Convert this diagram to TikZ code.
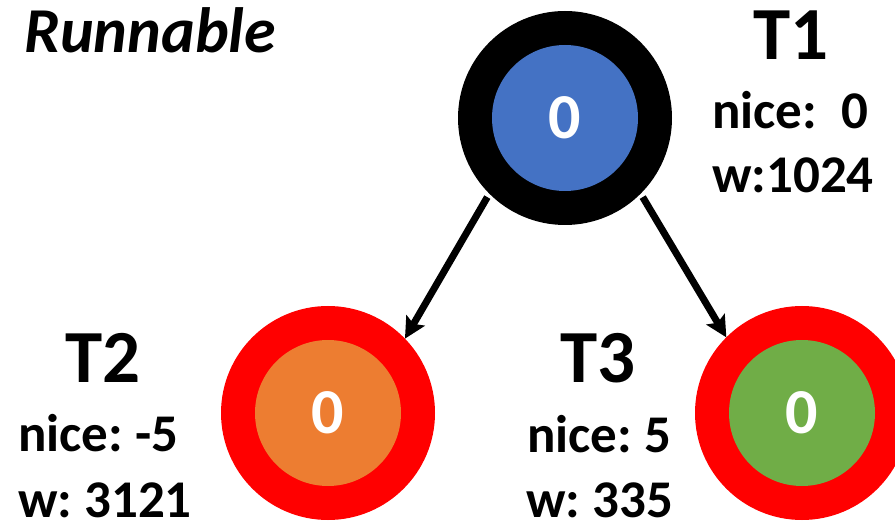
\documentclass[tikz,border=0pt]{standalone}
\usepackage{fontspec}
\setmainfont{Carlito}
\usetikzlibrary{arrows.meta}
\definecolor{cblue}{HTML}{4472C4}
\definecolor{corange}{HTML}{ED7D31}
\definecolor{cgreen}{HTML}{70AD47}
\definecolor{cred}{HTML}{FF0000}
\frenchspacing
\tikzset{
  ring/.style={circle, inner sep=0pt, outer sep=0pt, minimum size=214pt},
  core/.style={circle, inner sep=0pt, outer sep=0pt, minimum size=146pt, text=white,
    font=\fontsize{64}{64}\selectfont\bfseries},
  title/.style={anchor=base, inner sep=0pt, text depth=0pt, font=\fontsize{75}{75}\selectfont\bfseries},
  info/.style={anchor=base west, inner sep=0pt, text depth=0pt, font=\fontsize{53}{53}\selectfont\bfseries},
  link/.style={line width=7pt, -{Stealth[length=21pt,width=21pt,inset=4pt]}, shorten <=4pt}
}
\begin{document}
\begin{tikzpicture}[x=1pt,y=-1pt]
\useasboundingbox (0,0) rectangle (895,521);
\clip (0,0) rectangle (895,521);
% T1
\node[ring, fill=black] (t1) at (565,118) {};
\node[core, fill=cblue] (c1) at (t1) {0};
% T2
\node[ring, fill=cred] (t2) at (328,413) {};
\node[core, fill=corange] (c2) at (t2) {0};
% T3
\node[ring, fill=cred] (t3) at (802,413) {};
\node[core, fill=cgreen] (c3) at (t3) {0};
% arrows
\draw[link] (t1.225) -- (t2.44);
\draw[link] (t1.-45) -- (t3.135);
% labels
\node[anchor=base west, inner sep=0pt, text depth=0pt, font=\fontsize{64}{64}\selectfont\bfseries\itshape] (run) at (24,53) {Runnable};
\node[title] (l1) at (791,60) {T1};
\node[info] (n1) at (712,129) {nice:\ \ 0};
\node[info] (w1) at (712,193) {w:1024};
\node[title] (l2) at (103,383) {T2};
\node[info] (n2) at (18,452) {nice: -5};
\node[info] (w2) at (18,517) {w: 3121};
\node[title] (l3) at (598,383) {T3};
\node[info] (n3) at (527,453) {nice: 5};
\node[info] (w3) at (526,517) {w: 335};
\end{tikzpicture}
\end{document}
